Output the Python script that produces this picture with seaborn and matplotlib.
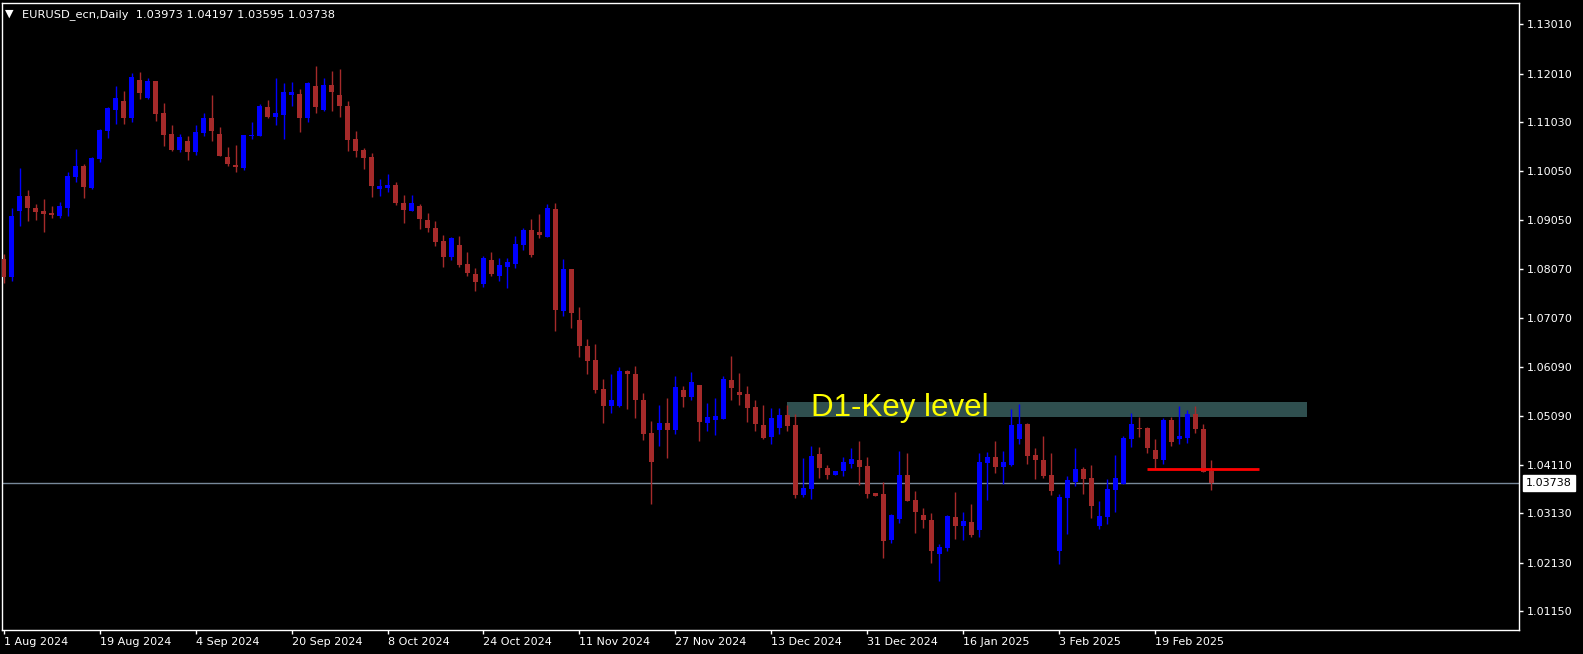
import pandas as pd
import matplotlib
matplotlib.use('Agg')
import matplotlib.pyplot as plt
import matplotlib.transforms as mtransforms
from matplotlib.patches import Rectangle
import seaborn as sns

# Chart identity
symbol = 'EURUSD_ecn'
timeframe = 'Daily'

# Daily bars, 1 Aug 2024 .. 28 Feb 2025
dates = pd.bdate_range('2024-08-01', '2025-02-28')

opens = [
    1.08265, 1.07901, 1.09242, 1.09538, 1.09296, 1.09235, 1.09201, 1.09141, 1.09302, 1.09929,
    1.10145, 1.09707, 1.10293, 1.10859, 1.11283, 1.11458, 1.11121, 1.11883, 1.11526, 1.11862,
    1.11216, 1.10791, 1.10475, 1.10650, 1.10434, 1.10818, 1.11115, 1.10791, 1.10326, 1.10165,
    1.10111, 1.10758, 1.10758, 1.11337, 1.11142, 1.11182, 1.11586, 1.11600, 1.11121, 1.11761,
    1.11283, 1.11782, 1.11580, 1.11357, 1.10690, 1.10468, 1.10326, 1.09686, 1.09707, 1.09761,
    1.09397, 1.09241, 1.09336, 1.09053, 1.08891, 1.08628, 1.08311, 1.08547, 1.08163, 1.07961,
    1.07766, 1.08244, 1.07927, 1.08103, 1.08170, 1.08554, 1.08850, 1.08810, 1.08716, 1.09275,
    1.07220, 1.08062, 1.07031, 1.06506, 1.06223, 1.05637, 1.05301, 1.05301, 1.06001, 1.05941,
    1.05415, 1.04748, 1.04816, 1.04950, 1.04816, 1.05617, 1.05483, 1.05718, 1.04957, 1.05018,
    1.05038, 1.05819, 1.05584, 1.05537, 1.05274, 1.04910, 1.04674, 1.04856, 1.05112, 1.04910,
    1.03502, 1.03623, 1.04323, 1.04040, 1.03906, 1.03987, 1.04128, 1.04202, 1.04081, 1.03535,
    1.03515, 1.02592, 1.03016, 1.03899, 1.03394, 1.03091, 1.02989, 1.02309, 1.02430, 1.03050,
    1.02875, 1.02949, 1.02794, 1.04141, 1.04263, 1.04067, 1.04108, 1.04633, 1.04930, 1.04303,
    1.04202, 1.03899, 1.02370, 1.03441, 1.03764, 1.04020, 1.03838, 1.02875, 1.03057, 1.03603,
    1.03724, 1.04633, 1.04849, 1.04849, 1.04404, 1.04209, 1.05011, 1.04633, 1.04653, 1.05132,
    1.04829, 1.03973,
]
highs = [
    1.08366, 1.09289, 1.10104, 1.09659, 1.09377, 1.09478, 1.09336, 1.09417, 1.10023, 1.10488,
    1.10185, 1.10326, 1.10892, 1.11337, 1.11761, 1.11660, 1.12024, 1.12044, 1.11923, 1.11870,
    1.11418, 1.10973, 1.10791, 1.10751, 1.10973, 1.11216, 1.11580, 1.10933, 1.10529, 1.10569,
    1.10780, 1.11034, 1.11398, 1.11478, 1.11923, 1.11822, 1.11842, 1.11701, 1.11842, 1.12166,
    1.11923, 1.12065, 1.12105, 1.11458, 1.10852, 1.10508, 1.10407, 1.09882, 1.09983, 1.09821,
    1.09558, 1.09558, 1.09376, 1.09194, 1.09032, 1.08749, 1.08709, 1.08729, 1.08406, 1.08082,
    1.08325, 1.08406, 1.08285, 1.08285, 1.08729, 1.08891, 1.09073, 1.09174, 1.09376, 1.09396,
    1.08264, 1.08070, 1.07294, 1.06648, 1.06553, 1.05839, 1.05941, 1.06082, 1.06022, 1.06102,
    1.05557, 1.04998, 1.05321, 1.05462, 1.05900, 1.05698, 1.05981, 1.05725, 1.05355, 1.05462,
    1.05900, 1.06305, 1.05968, 1.05698, 1.05422, 1.05321, 1.05254, 1.05254, 1.05321, 1.05139,
    1.04250, 1.04485, 1.04465, 1.04101, 1.03990, 1.04263, 1.04445, 1.04586, 1.04263, 1.03540,
    1.03757, 1.03111, 1.04384, 1.04344, 1.03576, 1.03232, 1.03131, 1.02511, 1.03091, 1.03555,
    1.03158, 1.03313, 1.04344, 1.04371, 1.04586, 1.04384, 1.05233, 1.05334, 1.04950, 1.04445,
    1.04687, 1.04344, 1.03515, 1.03879, 1.04445, 1.04061, 1.04101, 1.03373, 1.03818, 1.04303,
    1.04687, 1.05152, 1.05071, 1.04869, 1.04627, 1.05051, 1.05071, 1.05294, 1.05213, 1.05294,
    1.04930, 1.04197,
]
lows = [
    1.07787, 1.07827, 1.08939, 1.09040, 1.09053, 1.08817, 1.09100, 1.09100, 1.09141, 1.09828,
    1.09505, 1.09686, 1.10232, 1.10717, 1.11000, 1.11000, 1.11041, 1.11505, 1.11505, 1.11061,
    1.10555, 1.10454, 1.10434, 1.10273, 1.10374, 1.10758, 1.10657, 1.10340, 1.10151, 1.10030,
    1.10070, 1.10697, 1.10750, 1.11121, 1.10980, 1.10697, 1.11364, 1.10838, 1.11041, 1.11222,
    1.11263, 1.11263, 1.11142, 1.10454, 1.10333, 1.10091, 1.09525, 1.09545, 1.09626, 1.09363,
    1.08999, 1.09235, 1.08877, 1.08817, 1.08534, 1.08109, 1.08251, 1.08109, 1.07927, 1.07624,
    1.07705, 1.07927, 1.07826, 1.07685, 1.08089, 1.08453, 1.08311, 1.08695, 1.08710, 1.06816,
    1.07119, 1.06877, 1.06290, 1.05947, 1.05563, 1.04956, 1.05159, 1.05280, 1.05240, 1.05058,
    1.04614, 1.03320, 1.04492, 1.04250, 1.04735, 1.05280, 1.05422, 1.04593, 1.04795, 1.04715,
    1.05030, 1.05422, 1.05321, 1.04977, 1.04795, 1.04634, 1.04533, 1.04735, 1.04795, 1.03441,
    1.03461, 1.03421, 1.03845, 1.03825, 1.03900, 1.03885, 1.04047, 1.03704, 1.03441, 1.03475,
    1.02228, 1.02531, 1.02936, 1.03370, 1.02734, 1.02835, 1.02127, 1.01763, 1.02370, 1.02612,
    1.02592, 1.02653, 1.02653, 1.03400, 1.03946, 1.03724, 1.04088, 1.04532, 1.04128, 1.03825,
    1.03845, 1.03501, 1.02107, 1.02713, 1.03683, 1.03522, 1.03037, 1.02814, 1.02915, 1.03158,
    1.03715, 1.04472, 1.04674, 1.04350, 1.04027, 1.04128, 1.04492, 1.04532, 1.04552, 1.04755,
    1.03960, 1.03595,
]
closes = [
    1.07901, 1.09134, 1.09538, 1.09302, 1.09222, 1.09181, 1.09154, 1.09336, 1.09942, 1.10145,
    1.09727, 1.10306, 1.10872, 1.11317, 1.11519, 1.11121, 1.11943, 1.11627, 1.11862, 1.11202,
    1.10778, 1.10475, 1.10731, 1.10434, 1.10832, 1.11115, 1.10859, 1.10353, 1.10192, 1.10131,
    1.10771, 1.10771, 1.11357, 1.11142, 1.11216, 1.11640, 1.11640, 1.11121, 1.11822, 1.11344,
    1.11782, 1.11647, 1.11364, 1.10677, 1.10454, 1.10313, 1.09747, 1.09740, 1.09761, 1.09404,
    1.09262, 1.09396, 1.09080, 1.08898, 1.08615, 1.08311, 1.08689, 1.08150, 1.07988, 1.07806,
    1.08285, 1.07968, 1.08143, 1.08204, 1.08568, 1.08850, 1.08352, 1.08756, 1.09295, 1.07240,
    1.08062, 1.07180, 1.06513, 1.06210, 1.05623, 1.05300, 1.05415, 1.06001, 1.05947, 1.05422,
    1.04735, 1.04169, 1.04950, 1.04816, 1.05678, 1.05483, 1.05779, 1.04977, 1.05072, 1.05099,
    1.05840, 1.05664, 1.05523, 1.05260, 1.04937, 1.04654, 1.05051, 1.05112, 1.04896, 1.03502,
    1.03637, 1.04283, 1.04047, 1.03906, 1.03980, 1.04162, 1.04222, 1.04067, 1.03522, 1.03481,
    1.02572, 1.03091, 1.03899, 1.03380, 1.03158, 1.02996, 1.02370, 1.02444, 1.03070, 1.02875,
    1.02969, 1.02693, 1.04162, 1.04263, 1.04067, 1.04162, 1.04910, 1.04930, 1.04290, 1.04209,
    1.03885, 1.03582, 1.03454, 1.03798, 1.04020, 1.03825, 1.03279, 1.03070, 1.03616, 1.03838,
    1.04647, 1.04930, 1.04835, 1.04451, 1.04229, 1.05011, 1.04573, 1.04687, 1.05132, 1.04835,
    1.03966, 1.03738,
]

# Price scale labels shown on the right
price_ticks = [1.13010, 1.12010, 1.11030, 1.10050, 1.09050, 1.08070, 1.07070,
               1.06090, 1.05090, 1.04110, 1.03130, 1.02130, 1.01150]

# Drawn objects: key-level zone and a short red level line (bar index, price)
key_zone_bars = (98, 163)
key_zone_prices = (1.05077, 1.05375)
key_label = 'D1-Key level'
key_label_bar = 101
key_label_price = 1.05092
red_level_bars = (143, 157)
red_level_price = 1.04027

bull_color = '#0000ff'
bear_color = '#a52a2a'

df = pd.DataFrame({'Date': dates, 'Open': opens, 'High': highs,
                   'Low': lows, 'Close': closes})
df['Bar'] = range(len(df))
df['Color'] = [bull_color if c >= o else bear_color for o, c in zip(df['Open'], df['Close'])]
df['BodyLow'] = df[['Open', 'Close']].min(axis=1)
df['BodyHeight'] = (df['Close'] - df['Open']).abs().clip(lower=0.00015)

sns.set_theme(style='dark', rc={'axes.facecolor': 'black', 'figure.facecolor': 'black',
                                'savefig.facecolor': 'black'})
plt.rcParams['font.family'] = ['DejaVu Sans']

fig = plt.figure(figsize=(15.83, 6.54), dpi=100)
ax = fig.add_axes([0.00126, 0.0367, 0.9583, 0.9587])
ax.set_facecolor('black')

# key level zone (background object)
ax.add_patch(Rectangle((key_zone_bars[0], key_zone_prices[0]),
                       key_zone_bars[1] - key_zone_bars[0],
                       key_zone_prices[1] - key_zone_prices[0],
                       facecolor='#2f4f4f', edgecolor='none', zorder=1))

# bid line
ax.axhline(df['Close'].iloc[-1], color='#778899', linewidth=1, zorder=1.5)

# candles
ax.vlines(df['Bar'], df['Low'], df['High'], colors=df['Color'], linewidth=1, zorder=2)
ax.bar(df['Bar'], df['BodyHeight'], bottom=df['BodyLow'], width=0.6,
       color=df['Color'], edgecolor='none', zorder=3)

ax.hlines(red_level_price, red_level_bars[0], red_level_bars[1], color='#ff0000',
          linewidth=2, zorder=4)

ax.text(key_label_bar, key_label_price, key_label, color='#ffff00', fontsize=22.5,
        family=['Liberation Sans', 'DejaVu Sans'], ha='left', va='baseline', zorder=5)

ax.set_xlim(-0.19, 189.44)
ax.set_ylim(1.00767, 1.13438)

# x axis: a date label every 12 bars
xt = list(range(0, len(df), 12))
ax.set_xticks(xt)
ax.set_xticklabels([f"{d.day} {d:%b %Y}" for d in df['Date'].iloc[xt]], ha='left')
ax.tick_params(axis='x', direction='out', length=3, width=1, color='white',
               labelcolor='white', labelsize=8, pad=2, bottom=True)

# y axis on the right
ax.yaxis.tick_right()
ax.set_yticks(price_ticks)
ax.set_yticklabels([f"{p:.5f}" for p in price_ticks])
ax.tick_params(axis='y', direction='out', length=3, width=1, color='white',
               labelcolor='white', labelsize=8, pad=3, right=True, left=False)

for sp in ax.spines.values():
    sp.set_color('white')
    sp.set_linewidth(1)
    sp.set_visible(True)

# current price box
trans = mtransforms.blended_transform_factory(fig.transFigure, ax.transData)
last = df['Close'].iloc[-1]
ax.text(1526 / 1583, last, f"{last:.5f}", transform=trans, color='black', fontsize=8,
        ha='left', va='center', clip_on=False,
        bbox=dict(boxstyle='square,pad=0.25', facecolor='white', edgecolor='white'))

# header
header = (f"{symbol},{timeframe}  {opens[-1]:.5f} {highs[-1]:.5f} "
          f"{lows[-1]:.5f} {closes[-1]:.5f}")
fig.text(5 / 1583, 1 - 16.2 / 654, '\u25bc', color='white', fontsize=8, va='baseline')
fig.text(21.7 / 1583, 1 - 16.7 / 654, header, color='white', fontsize=8.2, va='baseline')

fig.savefig('out.png', dpi=100, facecolor='black')
